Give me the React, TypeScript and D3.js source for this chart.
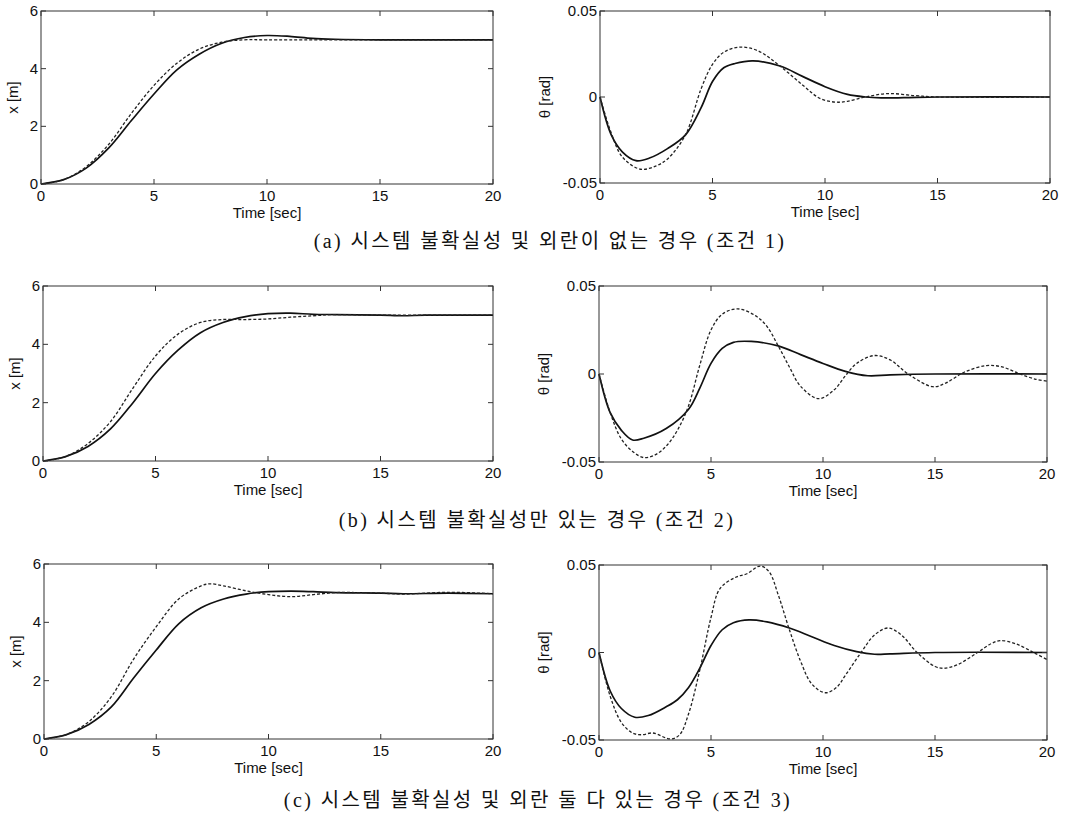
import React from "react";
import * as d3 from "d3";

type P = [number, number];

// ---- Data (time [sec], value) ----
const xTicks = [0, 5, 10, 15, 20];
const posTicks = [0, 2, 4, 6];
const angTicks = [-0.05, 0, 0.05];
const angTickLabels = ["-0.05", "0", "0.05"];

const aPosSolid: P[] = [[0,0],[1,0.15],[2,0.55],[3,1.25],[4,2.2],[5,3.12],[6,3.95],[7,4.5],[8,4.88],[9,5.08],[10,5.15],[11,5.12],[12,5.05],[13,5.02],[15,5.0],[20,5.0]];
const aPosDash: P[] = [[0,0],[1,0.15],[2,0.6],[3,1.38],[4,2.45],[5,3.42],[6,4.18],[7,4.68],[8,4.92],[9,5.0],[10,5.0],[15,5.0],[20,5.0]];
const aAngSolid: P[] = [[0,0],[0.5,-0.022],[1,-0.032],[1.6,-0.037],[2.2,-0.0355],[3,-0.03],[3.8,-0.022],[4.5,-0.006],[5,0.009],[5.5,0.017],[6,0.0195],[6.8,0.021],[8,0.018],[9,0.012],[10,0.006],[11,0.0015],[11.8,0],[12.5,-0.0005],[13.5,-0.0004],[15,0],[20,0]];
const aAngDash: P[] = [[0,0],[0.5,-0.021],[1,-0.035],[1.8,-0.042],[2.5,-0.04],[3,-0.036],[3.8,-0.022],[4.5,0.005],[5,0.019],[5.5,0.026],[6.2,0.029],[7,0.027],[8,0.018],[9,0.007],[9.8,-0.001],[10.5,-0.003],[11,-0.0025],[11.8,0],[12.8,0.002],[14,0.0008],[15,0],[20,0]];

const bPosSolid: P[] = [[0,0],[1,0.15],[2,0.5],[3,1.1],[4,2.0],[5,3.0],[6,3.8],[7,4.4],[8,4.75],[9,4.95],[10,5.05],[11,5.07],[12,5.03],[13,5.02],[15,5.0],[16,4.98],[17,5.0],[20,5.0]];
const bPosDash: P[] = [[0,0],[1,0.15],[2,0.6],[3,1.35],[4,2.5],[5,3.6],[6,4.35],[7,4.75],[8,4.85],[9,4.85],[10,4.87],[11,4.93],[12,4.98],[13,5.02],[15,5.0],[20,5.0]];
const bAngSolid: P[] = [[0,0],[0.5,-0.022],[1,-0.032],[1.5,-0.0375],[2,-0.0365],[3,-0.031],[4,-0.02],[4.5,-0.008],[5,0.006],[5.5,0.0145],[6,0.018],[6.8,0.0185],[8,0.016],[9,0.011],[10,0.006],[11,0.0015],[12,-0.001],[13,-0.0005],[15,0],[20,0]];
const bAngDash: P[] = [[0,0],[0.5,-0.022],[1,-0.037],[1.5,-0.044],[2,-0.0475],[2.5,-0.046],[3,-0.041],[3.5,-0.032],[4,-0.018],[4.5,0.005],[5,0.025],[5.5,0.034],[6.2,0.037],[7,0.033],[7.5,0.027],[8,0.016],[8.5,0.004],[9,-0.007],[9.8,-0.014],[10.5,-0.009],[11,-0.001],[11.5,0.006],[12.3,0.0105],[13,0.008],[13.8,0],[14.9,-0.0072],[15.5,-0.005],[16.3,0.001],[17.3,0.0048],[18,0.004],[18.8,0],[19.5,-0.003],[20,-0.004]];

const cPosSolid: P[] = [[0,0],[1,0.15],[2,0.5],[3,1.1],[4,2.1],[5,3.05],[6,3.95],[7,4.5],[8,4.8],[9,4.97],[10,5.05],[11,5.07],[12,5.05],[13,5.02],[15,5.0],[16,4.98],[18,5.0],[20,4.98]];
const cPosDash: P[] = [[0,0],[1,0.15],[2,0.6],[3,1.45],[4,2.75],[5,3.85],[6,4.8],[7,5.25],[7.4,5.32],[8,5.25],[9,5.08],[10,4.95],[11,4.88],[12,4.95],[13,5.02],[14,5.02],[15,5.0],[16,4.97],[18,5.03],[20,4.98]];
const cAngSolid: P[] = [[0,0],[0.5,-0.022],[1,-0.032],[1.6,-0.037],[2.2,-0.036],[3,-0.031],[3.5,-0.027],[4,-0.02],[4.5,-0.009],[5,0.004],[5.5,0.013],[6,0.017],[6.7,0.0186],[7.5,0.0175],[8.5,0.014],[9.5,0.009],[10.5,0.004],[11.5,0.0005],[12.3,-0.001],[13,-0.0008],[15,0],[20,0]];
const cAngDash: P[] = [[0,0],[0.5,-0.025],[1,-0.04],[1.5,-0.046],[1.9,-0.047],[2.4,-0.046],[3.2,-0.0494],[3.6,-0.047],[4,-0.035],[4.5,-0.01],[5,0.02],[5.4,0.0365],[6.1,0.043],[6.6,0.045],[7.2,0.0494],[7.6,0.046],[8,0.033],[8.5,0.013],[9,-0.005],[9.5,-0.018],[10.1,-0.023],[10.6,-0.02],[11,-0.013],[11.7,0],[12.3,0.01],[12.9,0.014],[13.5,0.01],[14.2,0],[15,-0.008],[15.4,-0.009],[16,-0.007],[16.9,0],[17.5,0.005],[17.9,0.0068],[18.6,0.005],[19.4,0],[20,-0.004]];

const captions = [
  "(a) 시스템 불확실성 및 외란이 없는 경우 (조건 1)",
  "(b) 시스템 불확실성만 있는 경우 (조건 2)",
  "(c) 시스템 불확실성 및 외란 둘 다 있는 경우 (조건 3)",
];

// ---- Layout ----
const SANS = "'Liberation Sans', Arial, Helvetica, sans-serif";
const SERIF = "'Liberation Serif', 'Times New Roman', 'Noto Sans CJK KR', serif";

interface PanelCfg {
  x0: number; x1: number; y0: number; y1: number;
  kind: "pos" | "ang";
  solid: P[]; dash: P[];
}

const panels: PanelCfg[] = [
  { x0: 41, x1: 493, y0: 11, y1: 184, kind: "pos", solid: aPosSolid, dash: aPosDash },
  { x0: 600, x1: 1050, y0: 11, y1: 183, kind: "ang", solid: aAngSolid, dash: aAngDash },
  { x0: 43, x1: 493, y0: 286, y1: 461, kind: "pos", solid: bPosSolid, dash: bPosDash },
  { x0: 599, x1: 1047, y0: 286, y1: 462, kind: "ang", solid: bAngSolid, dash: bAngDash },
  { x0: 44, x1: 493, y0: 564, y1: 739, kind: "pos", solid: cPosSolid, dash: cPosDash },
  { x0: 599, x1: 1047, y0: 565, y1: 740, kind: "ang", solid: cAngSolid, dash: cAngDash },
];

const captionLayout = [
  { cx: 550, y: 248 },
  { cx: 537, y: 527 },
  { cx: 538, y: 807 },
];

function Panel({ cfg }: { cfg: PanelCfg }) {
  const xs = d3.scaleLinear().domain([0, 20]).range([cfg.x0, cfg.x1]);
  const ys = cfg.kind === "pos"
    ? d3.scaleLinear().domain([0, 6]).range([cfg.y1, cfg.y0])
    : d3.scaleLinear().domain([-0.05, 0.05]).range([cfg.y1, cfg.y0]);
  const line = d3.line<P>().x(d => xs(d[0])).y(d => ys(d[1])).curve(d3.curveCatmullRom.alpha(0.5));
  const yt = cfg.kind === "pos" ? posTicks : angTicks;
  const ytl = cfg.kind === "pos" ? posTicks.map(String) : angTickLabels;
  const tk = 5;
  const midY = (cfg.y0 + cfg.y1) / 2;
  const labelX = cfg.kind === "pos" ? cfg.x0 - 23 : cfg.x0 - 50;
  return (
    <g>
      <path d={line(cfg.solid) || ""} fill="none" stroke="#111" strokeWidth={1.7} />
      <path d={line(cfg.dash) || ""} fill="none" stroke="#222" strokeWidth={1.3} strokeDasharray="3,2" />
      <rect x={cfg.x0} y={cfg.y0} width={cfg.x1 - cfg.x0} height={cfg.y1 - cfg.y0} fill="none" stroke="#333" strokeWidth={1} />
      {xTicks.map(t => (
        <g key={"x" + t}>
          <line x1={xs(t)} x2={xs(t)} y1={cfg.y1} y2={cfg.y1 - tk} stroke="#333" />
          <line x1={xs(t)} x2={xs(t)} y1={cfg.y0} y2={cfg.y0 + tk} stroke="#333" />
          <text x={xs(t)} y={cfg.y1 + 17} textAnchor="middle" fontFamily={SANS} fontSize={15} fill="#111">{t}</text>
        </g>
      ))}
      {yt.map((v, i) => (
        <g key={"y" + v}>
          <line x1={cfg.x0} x2={cfg.x0 + tk} y1={ys(v)} y2={ys(v)} stroke="#333" />
          <line x1={cfg.x1} x2={cfg.x1 - tk} y1={ys(v)} y2={ys(v)} stroke="#333" />
          <text x={cfg.x0 - 3} y={ys(v) + 5} textAnchor="end" fontFamily={SANS} fontSize={15} fill="#111">{ytl[i]}</text>
        </g>
      ))}
      <text x={xs(10)} y={cfg.y1 + 34} textAnchor="middle" fontFamily={SANS} fontSize={15} fill="#111">Time [sec]</text>
      <text transform={`translate(${labelX},${midY}) rotate(-90)`} textAnchor="middle" fontFamily={SANS} fontSize={15} fill="#111">
        {cfg.kind === "pos" ? "x [m]" : "θ [rad]"}
      </text>
    </g>
  );
}

export default function App() {
  return (
    <svg width={1080} height={823} style={{ position: "absolute", left: 0, top: 0, background: "#fff" }}>
      <rect x={0} y={0} width={1080} height={823} fill="#fff" />
      {panels.map((p, i) => <Panel key={i} cfg={p} />)}
      {captions.map((c, i) => (
        <text key={c} x={captionLayout[i].cx} y={captionLayout[i].y} textAnchor="middle"
          fontFamily={SERIF} fontSize={20} letterSpacing={2.4} fill="#111">{c}</text>
      ))}
    </svg>
  );
}
